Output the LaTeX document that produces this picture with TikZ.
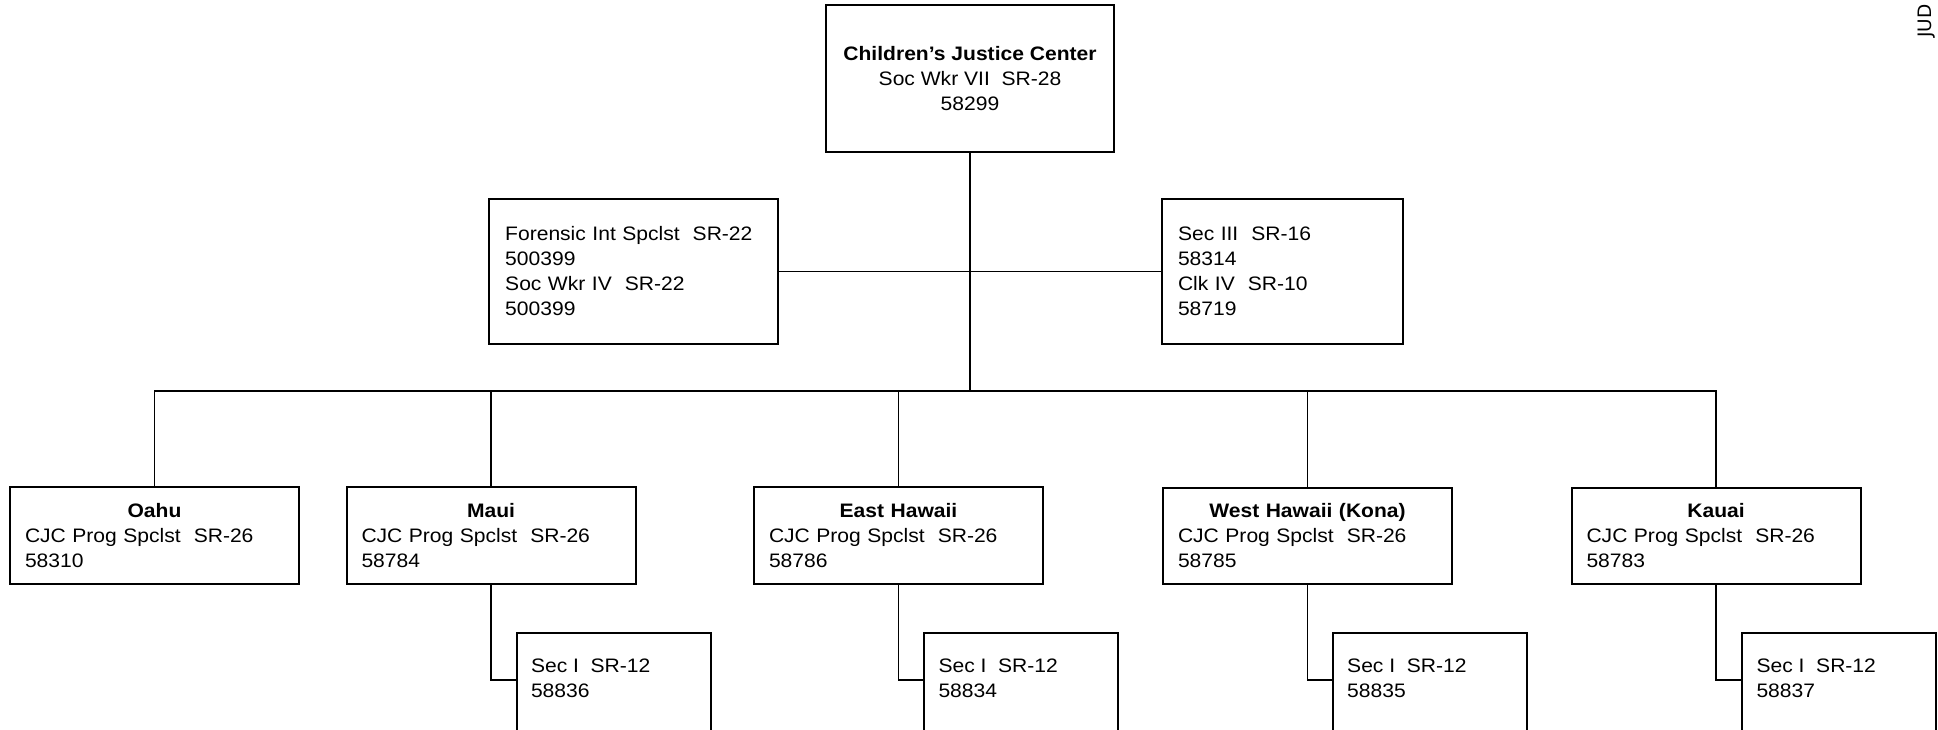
\documentclass[tikz,border=0pt]{standalone}
\usepackage{fontspec}
\setmainfont[FakeStretch=1.08]{Liberation Sans}
\newfontfamily\judfont{DejaVu Sans}
\begin{document}
\begin{tikzpicture}[x=1pt,y=-1pt,
  every node/.style={font=\fontsize{19.5}{25}\selectfont},
  box/.style={draw, line width=2pt, rectangle, inner ysep=0pt},
  topbox/.style={box, minimum width=288pt, minimum height=147pt, align=center},
  midbox/.style={box, minimum height=145pt, inner xsep=16pt, align=left},
  regbox/.style={box, minimum width=289pt, minimum height=96.5pt, inner xsep=15pt, text width=259pt, align=left},
  secbox/.style={box, anchor=north west, inner xsep=14.5pt, inner ysep=25.5pt},
  conn/.style={line width=1.3pt}]
\useasboundingbox (0,0) rectangle (1938,729);
\fill[white] (0,0) rectangle (1938,729);
\clip (0,0) rectangle (1938,729);

\node[topbox] (cjc) at (970,78.5) {\textbf{Children's Justice Center}\\Soc Wkr VII\ \ SR-28\\58299};

\node[midbox, minimum width=289pt, text width=257pt] (fis) at (633.7,271.5) {Forensic Int Spclst\ \ SR-22\\500399\\Soc Wkr IV\ \ SR-22\\500399};
\node[midbox, minimum width=241pt, text width=209pt] (sec3) at (1282.5,271.5) {Sec III\ \ SR-16\\58314\\Clk IV\ \ SR-10\\58719};

\node[regbox] (oahu) at (154.5,535.3) {\makebox[\linewidth]{\bfseries Oahu}\\CJC Prog Spclst\ \ SR-26\\58310};
\node[regbox] (maui) at (491,535.3) {\makebox[\linewidth]{\bfseries Maui}\\CJC Prog Spclst\ \ SR-26\\58784};
\node[regbox] (east) at (898.5,535.5) {\makebox[\linewidth]{\bfseries East Hawaii}\\CJC Prog Spclst\ \ SR-26\\58786};
\node[regbox] (west) at (1307.5,536) {\makebox[\linewidth]{\bfseries West Hawaii (Kona)}\\CJC Prog Spclst\ \ SR-26\\58785};
\node[regbox] (kauai) at (1716,536) {\makebox[\linewidth]{\bfseries Kauai}\\CJC Prog Spclst\ \ SR-26\\58783};

\node[secbox] (mauisec) at (515.5,632) {\begin{minipage}[t][110pt][t]{165pt}\noindent Sec I\ \ SR-12\\58836\end{minipage}};
\node[secbox] (eastsec) at (923,632) {\begin{minipage}[t][110pt][t]{165pt}\noindent Sec I\ \ SR-12\\58834\end{minipage}};
\node[secbox] (westsec) at (1331.7,632) {\begin{minipage}[t][110pt][t]{165pt}\noindent Sec I\ \ SR-12\\58835\end{minipage}};
\node[secbox] (kauaisec) at (1741,632) {\begin{minipage}[t][110pt][t]{165pt}\noindent Sec I\ \ SR-12\\58837\end{minipage}};

\node[font=\judfont\fontsize{18.5}{20}\selectfont, rotate=90] (jud) at (1926.5,21) {JUD};

\coordinate (bus) at (970,391);
\draw[conn] (cjc.south) -- (bus);
\draw[conn] (fis.east) -- (sec3.west);
\draw[conn] (oahu.north) -- (oahu.north |- bus) -- (kauai.north |- bus) -- (kauai.north);
\foreach \n in {maui,east,west} \draw[conn] (\n.north) -- (\n.north |- bus);
\foreach \n in {maui,east,west,kauai} \draw[conn] (\n.south) |- ([yshift=-48pt]\n sec.north west);
\end{tikzpicture}
\end{document}
